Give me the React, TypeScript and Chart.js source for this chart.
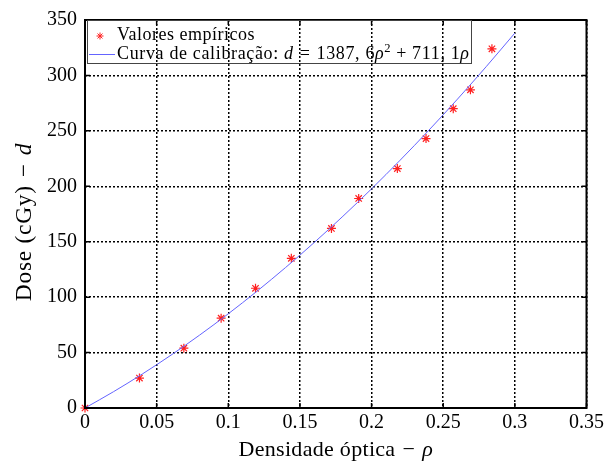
import React, { useEffect, useRef } from 'react';
import { Chart, registerables } from 'chart.js';

Chart.register(...registerables);

const densidade = [0, 0.038, 0.069, 0.095, 0.119, 0.144, 0.172, 0.191, 0.218, 0.238, 0.257, 0.269, 0.284];
const dose = [0, 27, 54, 81, 108, 135, 162, 189, 216, 243, 270, 287, 324];

// Calibration curve samples
const curvaRho = [0, 0.02, 0.04, 0.06, 0.08, 0.1, 0.12, 0.14, 0.16, 0.18, 0.2, 0.22, 0.24, 0.26, 0.28, 0.3];
const curvaDose = [0, 14.78, 30.66, 47.66, 65.77, 84.99, 105.31, 126.75, 149.3, 172.96, 197.72, 223.6, 250.59, 278.69, 307.9, 338.21];

const xTickLabels = ['0', '0.05', '0.1', '0.15', '0.2', '0.25', '0.3', '0.35'];
const yTickLabels = ['0', '50', '100', '150', '200', '250', '300', '350'];

const legendPoints = 'Valores empíricos';
const FONT = "'Liberation Serif', 'Times New Roman', serif";

type Seg = { t: string; italic?: boolean; sup?: boolean; gap?: number };

function drawSegs(ctx: CanvasRenderingContext2D, segs: Seg[], x: number, y: number, size: number, ls: number, measureOnly = false): number {
  let cx = x;
  (ctx as any).letterSpacing = `${ls}px`;
  for (const s of segs) {
    cx += s.gap || 0;
    const sz = s.sup ? size * 0.7 : size;
    ctx.font = `${s.italic ? 'italic ' : ''}${sz}px ${FONT}`;
    if (!measureOnly) ctx.fillText(s.t, cx, s.sup ? y - size * 0.38 : y);
    cx += ctx.measureText(s.t).width;
  }
  (ctx as any).letterSpacing = '0px';
  return cx - x;
}

function star(ctx: CanvasRenderingContext2D, x: number, y: number, r: number) {
  ctx.beginPath();
  for (let k = 0; k < 4; k++) {
    const a = (k * Math.PI) / 4;
    ctx.moveTo(x - r * Math.cos(a), y - r * Math.sin(a));
    ctx.lineTo(x + r * Math.cos(a), y + r * Math.sin(a));
  }
  ctx.stroke();
}

const decorPlugin = {
  id: 'decor',
  afterDraw(chart: any) {
    const ctx: CanvasRenderingContext2D = chart.ctx;
    const a = chart.chartArea;
    const xs = chart.scales.x;
    const ys = chart.scales.y;
    ctx.save();
    // inward tick marks
    ctx.strokeStyle = '#000';
    ctx.lineWidth = 1.5;
    ctx.setLineDash([]);
    ctx.beginPath();
    xs.ticks.forEach((t: any) => {
      const px = xs.getPixelForValue(t.value);
      ctx.moveTo(px, a.bottom);
      ctx.lineTo(px, a.bottom - 5);
      ctx.moveTo(px, a.top);
      ctx.lineTo(px, a.top + 5);
    });
    ys.ticks.forEach((t: any) => {
      const py = ys.getPixelForValue(t.value);
      ctx.moveTo(a.left, py);
      ctx.lineTo(a.left + 5, py);
      ctx.moveTo(a.right, py);
      ctx.lineTo(a.right - 5, py);
    });
    ctx.stroke();
    // frame
    ctx.lineWidth = 2;
    ctx.strokeRect(a.left, a.top, a.right - a.left, a.bottom - a.top);

    // legend (transparent box)
    const lx = a.left + 2;
    const ly = a.top;
    ctx.strokeStyle = '#444';
    ctx.lineWidth = 1;
    ctx.strokeRect(lx + 0.5, ly + 0.5, 384, 43);
    ctx.strokeStyle = '#ff2020';
    ctx.lineWidth = 1;
    star(ctx, lx + 13, ly + 16, 3.5);
    ctx.strokeStyle = '#6464ff';
    ctx.beginPath();
    ctx.moveTo(lx + 2, ly + 34.5);
    ctx.lineTo(lx + 28, ly + 34.5);
    ctx.stroke();
    ctx.fillStyle = '#000';
    ctx.textBaseline = 'alphabetic';
    ctx.textAlign = 'left';
    drawSegs(ctx, [{ t: legendPoints }], lx + 30, ly + 20, 18, 0.5);
    drawSegs(
      ctx,
      [
        { t: 'Curva de calibração: ' },
        { t: 'd', italic: true },
        { t: '=', gap: 6 },
        { t: '1387, 6', gap: 6 },
        { t: 'ρ', italic: true },
        { t: '2', sup: true },
        { t: '+', gap: 5 },
        { t: '711, 1', gap: 5 },
        { t: 'ρ', italic: true },
      ],
      lx + 30,
      ly + 39,
      18,
      0.65
    );

    // x title
    const xt: Seg[] = [{ t: 'Densidade óptica' }, { t: '−', gap: 7 }, { t: 'ρ', italic: true, gap: 7 }];
    const xw = drawSegs(ctx, xt, 0, 0, 22, 0.3, true);
    drawSegs(ctx, xt, (a.left + a.right) / 2 - xw / 2, 456, 22, 0.3);

    // y title
    const yt: Seg[] = [{ t: 'Dose (cGy)' }, { t: '−', gap: 8 }, { t: 'd', italic: true, gap: 8 }];
    const yw = drawSegs(ctx, yt, 0, 0, 23.5, 0.7, true);
    ctx.translate(31, 222 + yw / 2);
    ctx.rotate(-Math.PI / 2);
    drawSegs(ctx, yt, 0, 0, 23.5, 0.7);
    ctx.restore();
  },
};

export default function App() {
  const ref = useRef<HTMLCanvasElement | null>(null);
  useEffect(() => {
    document.body.style.margin = '0';
    const canvas = ref.current!;
    const chart = new Chart(canvas, {
      type: 'scatter',
      data: {
        datasets: [
          {
            label: 'Curva de calibração',
            data: curvaRho.map((r, i) => ({ x: r, y: curvaDose[i] })),
            showLine: true,
            borderColor: '#6464ff',
            borderWidth: 1,
            pointRadius: 0,
            tension: 0.4,
            cubicInterpolationMode: 'monotone',
          } as any,
          {
            label: legendPoints,
            data: densidade.map((r, i) => ({ x: r, y: dose[i] })),
            pointStyle: 'star',
            pointRadius: 4.5,
            borderColor: '#ff2020',
            backgroundColor: '#ff2020',
            borderWidth: 1.2,
          } as any,
        ],
      },
      options: {
        responsive: false,
        animation: false,
        clip: false as any,
        layout: { padding: { top: 18, right: 19, left: 0, bottom: 0 } },
        plugins: { legend: { display: false }, tooltip: { enabled: false } },
        scales: {
          x: {
            type: 'linear',
            min: 0,
            max: 0.35,
            afterFit: (s: any) => { s.height = 54; },
            afterBuildTicks: (s: any) => { s.ticks = xTickLabels.map((_, i) => ({ value: i * 0.05 })); },
            ticks: {
              callback: (_v: any, i: number) => xTickLabels[i],
              font: { family: FONT, size: 20 },
              color: '#000',
              padding: 3,
              maxRotation: 0,
            },
            grid: { color: '#000', lineWidth: 1.5, drawTicks: false },
            border: { display: false, dash: [2, 2] },
          },
          y: {
            type: 'linear',
            min: 0,
            max: 350,
            afterFit: (s: any) => { s.width = 85; },
            afterBuildTicks: (s: any) => { s.ticks = yTickLabels.map((_, i) => ({ value: i * 50 })); },
            ticks: {
              callback: (_v: any, i: number) => yTickLabels[i],
              font: { family: FONT, size: 20 },
              color: '#000',
              padding: 8,
            },
            grid: { color: '#000', lineWidth: 1.5, drawTicks: false },
            border: { display: false, dash: [2, 2] },
          },
        },
      },
      plugins: [decorPlugin],
    });
    return () => chart.destroy();
  }, []);
  return <canvas ref={ref} width={607} height={462} style={{ display: 'block' }} />;
}
